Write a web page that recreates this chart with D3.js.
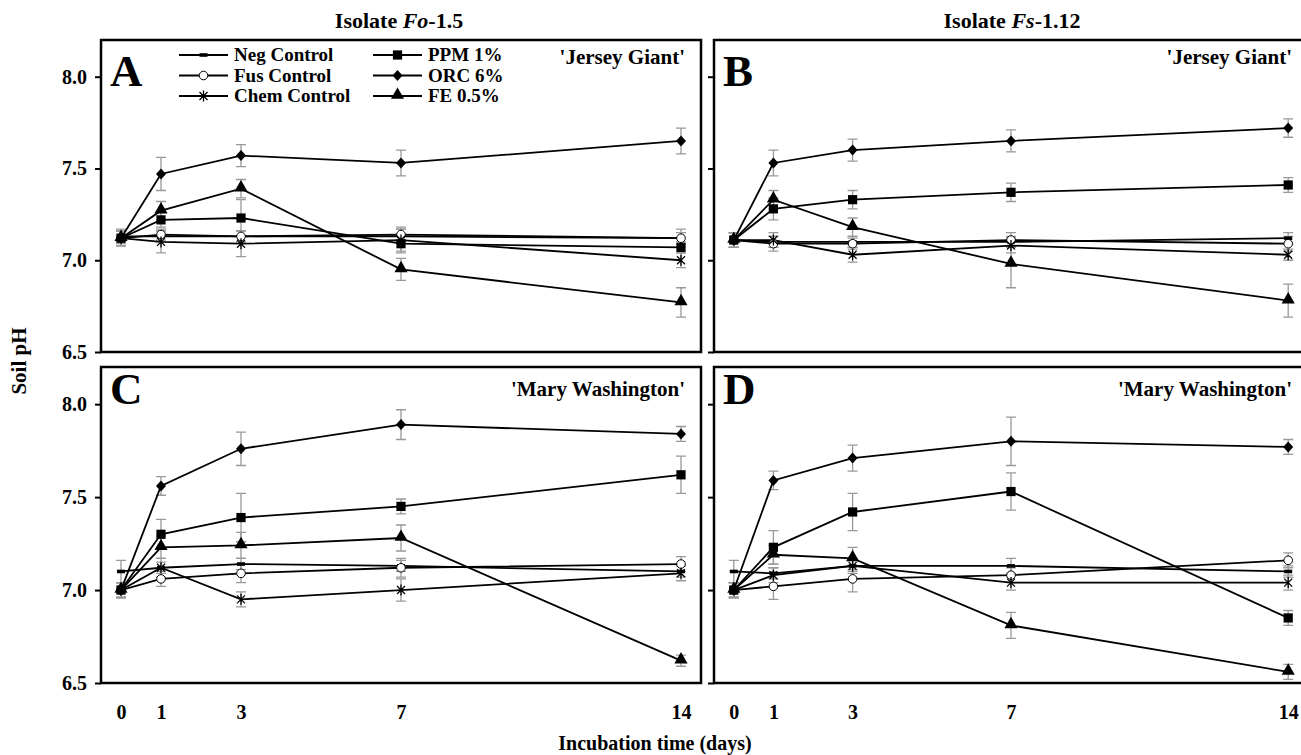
<!DOCTYPE html>
<html>
<head>
<meta charset="utf-8">
<script src="https://cdn.jsdelivr.net/npm/d3@7"></script>
<style>
  body { margin: 0; background: #fff; }
  svg { display: block; font-family: "Liberation Serif", "Times New Roman", serif; font-weight: bold; }
</style>
</head>
<body>
<svg id="chart" width="1301" height="755"></svg>
<script>
// incubation days and series
const days = [0, 1, 3, 7, 14]
const seriesNames = ['Neg Control', 'Fus Control', 'Chem Control', 'PPM 1%', 'ORC 6%', 'FE 0.5%']
const seriesMarks = ['dash', 'circle', 'star', 'square', 'diamond', 'triangle']
const yTicks = [6.5, 7.0, 7.5, 8.0]
const cultivars = ["'Jersey Giant'", "'Jersey Giant'", "'Mary Washington'", "'Mary Washington'"]
const panelLetters = ['A', 'B', 'C', 'D']

// soil pH, rows follow seriesNames
const phA = [
    [7.13, 7.13, 7.13, 7.13, 7.12],
    [7.12, 7.14, 7.13, 7.14, 7.12],
    [7.12, 7.10, 7.09, 7.11, 7.00],
    [7.12, 7.22, 7.23, 7.09, 7.07],
    [7.12, 7.47, 7.57, 7.53, 7.65],
    [7.12, 7.27, 7.39, 6.95, 6.77]
]
const errA = [
    [0.04, 0.03, 0.03, 0.04, 0.03],
    [0.04, 0.03, 0.03, 0.04, 0.05],
    [0.04, 0.06, 0.07, 0.06, 0.04],
    [0.04, 0.04, 0.10, 0.05, 0.03],
    [0.04, 0.09, 0.06, 0.07, 0.07],
    [0.04, 0.05, 0.05, 0.06, 0.08]
]
const phB = [
    [7.11, 7.10, 7.10, 7.10, 7.12],
    [7.11, 7.09, 7.09, 7.11, 7.09],
    [7.11, 7.11, 7.03, 7.08, 7.03],
    [7.11, 7.28, 7.33, 7.37, 7.41],
    [7.11, 7.53, 7.60, 7.65, 7.72],
    [7.11, 7.33, 7.18, 6.98, 6.78]
]
const errB = [
    [0.04, 0.03, 0.03, 0.03, 0.03],
    [0.04, 0.04, 0.03, 0.04, 0.04],
    [0.04, 0.04, 0.04, 0.04, 0.03],
    [0.04, 0.06, 0.05, 0.05, 0.04],
    [0.04, 0.07, 0.06, 0.06, 0.05],
    [0.04, 0.05, 0.05, 0.13, 0.09]
]
const phC = [
    [7.10, 7.12, 7.14, 7.13, 7.10],
    [7.00, 7.06, 7.09, 7.12, 7.14],
    [7.00, 7.12, 6.95, 7.00, 7.09],
    [7.00, 7.30, 7.39, 7.45, 7.62],
    [7.00, 7.56, 7.76, 7.89, 7.84],
    [7.00, 7.23, 7.24, 7.28, 6.62]
]
const errC = [
    [0.06, 0.03, 0.03, 0.03, 0.03],
    [0.04, 0.04, 0.05, 0.05, 0.04],
    [0.04, 0.05, 0.04, 0.06, 0.04],
    [0.04, 0.08, 0.13, 0.04, 0.10],
    [0.04, 0.05, 0.09, 0.08, 0.04],
    [0.04, 0.06, 0.07, 0.07, 0.03]
]
const phD = [
    [7.10, 7.09, 7.13, 7.13, 7.10],
    [7.00, 7.02, 7.06, 7.08, 7.16],
    [7.00, 7.08, 7.13, 7.04, 7.04],
    [7.00, 7.23, 7.42, 7.53, 6.85],
    [7.00, 7.59, 7.71, 7.80, 7.77],
    [7.00, 7.19, 7.17, 6.81, 6.56]
]
const errD = [
    [0.06, 0.03, 0.03, 0.04, 0.03],
    [0.04, 0.07, 0.07, 0.04, 0.04],
    [0.04, 0.04, 0.04, 0.04, 0.04],
    [0.04, 0.09, 0.10, 0.10, 0.04],
    [0.04, 0.05, 0.07, 0.13, 0.04],
    [0.04, 0.05, 0.06, 0.07, 0.04]
]

let svg = d3.select('#chart')

// panel layout
let panels = [
    {vals: phA, errs: errA, x: 101, y: 40, w: 600, h: 312, left: true, bottom: false, letterY: 86, cultY: 64},
    {vals: phB, errs: errB, x: 714, y: 40, w: 594, h: 312, left: false, bottom: false, letterY: 86, cultY: 64},
    {vals: phC, errs: errC, x: 101, y: 367, w: 600, h: 316, left: true, bottom: true, letterY: 404, cultY: 396},
    {vals: phD, errs: errD, x: 714, y: 367, w: 594, h: 316, left: false, bottom: true, letterY: 404, cultY: 396}
]

let drawMarker = (g, kind) => {
    if (kind === 'dash') {
        g.append('rect').attr('x', -4).attr('y', -1.8).attr('width', 8).attr('height', 3.6).attr('fill', '#000')
    } else if (kind === 'circle') {
        g.append('circle').attr('r', 4.3).attr('fill', '#fff').attr('stroke', '#000').attr('stroke-width', 1)
    } else if (kind === 'star') {
        g.append('path').attr('d', 'M-4,-4L4,4M-4,4L4,-4M0,-5.5L0,5.5')
         .attr('stroke', '#000').attr('stroke-width', 1.3).attr('fill', 'none')
    } else if (kind === 'square') {
        g.append('path').attr('d', d3.symbol(d3.symbolSquare, 85)()).attr('fill', '#000')
    } else if (kind === 'diamond') {
        g.append('path').attr('d', 'M0,-5.5L5,0L0,5.5L-5,0Z').attr('fill', '#000')
    } else {
        g.append('path').attr('d', d3.symbol(d3.symbolTriangle, 75)()).attr('transform', 'translate(0,-1)').attr('fill', '#000')
    }
}

panels.forEach((p, i) => {
    let g = svg.append('g').attr('transform', 'translate(' + p.x + ',' + p.y + ')')

    let x = d3.scaleLinear().domain([-0.5, 14.5]).range([0, p.w])
    let y = d3.scaleLinear().domain([6.5, 8.2]).range([p.h, 0])

    // y axis ticks
    let yAxis = d3.axisLeft(y).tickValues(yTicks).tickSize(6).tickPadding(8)
                  .tickFormat(p.left ? d3.format('.1f') : '')
    let ya = g.append('g').call(yAxis)
    ya.select('.domain').remove()
    ya.selectAll('line').attr('stroke', '#000').attr('stroke-width', 2)
    ya.selectAll('text').attr('font-size', 20).attr('font-weight', 'bold')
      .attr('font-family', '"Liberation Serif", serif').attr('fill', '#000')

    if (p.bottom) {
        let xAxis = d3.axisBottom(x).tickValues(days).tickSize(0).tickPadding(22)
        let xa = g.append('g').attr('transform', 'translate(0,' + p.h + ')').call(xAxis)
        xa.select('.domain').remove()
        xa.selectAll('text').attr('font-size', 20).attr('font-weight', 'bold')
          .attr('font-family', '"Liberation Serif", serif').attr('fill', '#000')
    }

    // error bars
    p.vals.forEach((row, s) => {
        row.forEach((v, k) => {
            let e = p.errs[s][k]
            let cx = x(days[k])
            g.append('path')
             .attr('d', 'M' + (cx - 5) + ',' + y(v + e) + 'H' + (cx + 5) +
                        'M' + cx + ',' + y(v + e) + 'V' + y(v - e) +
                        'M' + (cx - 5) + ',' + y(v - e) + 'H' + (cx + 5))
             .attr('stroke', '#999').attr('stroke-width', 1.3).attr('fill', 'none')
        })
    })

    // lines
    let line = d3.line().x((d, k) => x(days[k])).y(d => y(d))
    p.vals.forEach((row) => {
        g.append('path').attr('d', line(row)).attr('fill', 'none')
         .attr('stroke', '#000').attr('stroke-width', 1.8)
    })

    // markers
    p.vals.forEach((row, s) => {
        row.forEach((v, k) => {
            let m = g.append('g').attr('transform', 'translate(' + x(days[k]) + ',' + y(v) + ')')
            drawMarker(m, seriesMarks[s])
        })
    })

    // frame
    g.append('rect').attr('width', p.w).attr('height', p.h)
     .attr('fill', 'none').attr('stroke', '#000').attr('stroke-width', 2.5)

    // letter and cultivar
    svg.append('text').attr('x', p.x + 9).attr('y', p.letterY)
       .attr('font-size', 45).text(panelLetters[i])
    svg.append('text').attr('x', p.x + p.w - 16).attr('y', p.cultY)
       .attr('text-anchor', 'end').attr('font-size', 21).text(cultivars[i])
})

// legend in panel A
let legend = svg.append('g')
seriesNames.forEach((name, s) => {
    let col = Math.floor(s / 3)
    let row = s % 3
    let lx = col === 0 ? 179 : 373
    let ly = 55 + row * 20.5
    legend.append('line').attr('x1', lx).attr('x2', lx + 49).attr('y1', ly).attr('y2', ly)
          .attr('stroke', '#000').attr('stroke-width', 1.8)
    let m = legend.append('g').attr('transform', 'translate(' + (lx + 24.5) + ',' + ly + ')')
    drawMarker(m, seriesMarks[s])
    legend.append('text').attr('x', lx + 55).attr('y', ly + 6)
          .attr('font-size', 19).text(name)
})

// titles
let t1 = svg.append('text').attr('x', 399).attr('y', 28).attr('text-anchor', 'middle').attr('font-size', 22)
t1.append('tspan').text('Isolate ')
t1.append('tspan').attr('font-style', 'italic').text('Fo')
t1.append('tspan').text('-1.5')
let t2 = svg.append('text').attr('x', 1012).attr('y', 28).attr('text-anchor', 'middle').attr('font-size', 22)
t2.append('tspan').text('Isolate ')
t2.append('tspan').attr('font-style', 'italic').text('Fs')
t2.append('tspan').text('-1.12')

svg.append('text').attr('transform', 'translate(26,361) rotate(-90)')
   .attr('text-anchor', 'middle').attr('font-size', 21).text('Soil pH')
svg.append('text').attr('x', 655).attr('y', 750)
   .attr('text-anchor', 'middle').attr('font-size', 20).text('Incubation time (days)')
</script>
</body>
</html>
